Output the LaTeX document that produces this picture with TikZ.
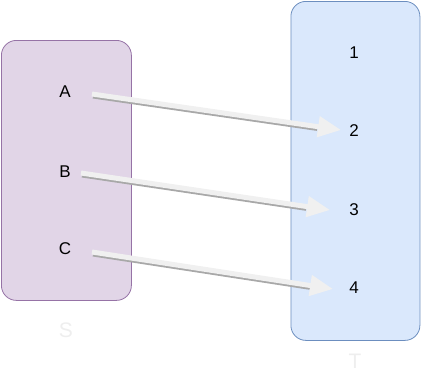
\documentclass[tikz,border=0pt]{standalone}
\usepackage{fontspec}
\setmainfont{Liberation Sans}
\usetikzlibrary{arrows.meta,calc}
\definecolor{sfill}{HTML}{E1D5E7}
\definecolor{sdraw}{HTML}{9673A6}
\definecolor{tfill}{HTML}{DAE8FC}
\definecolor{tdraw}{HTML}{6C8EBF}
\definecolor{arrowlight}{HTML}{F0F0F0}
\definecolor{arrowshadow}{HTML}{A8A8A8}
\definecolor{setlabel}{HTML}{EEEEEE}
\newcommand{\elemfont}{\fontsize{17}{20}\selectfont}
\begin{document}
\begin{tikzpicture}[x=1pt,y=-1pt,
  setbox/.style={draw, rounded corners=15pt, line width=0.8pt, inner sep=0pt, anchor=north west},
  elem/.style={font=\elemfont, text=black},
  setname/.style={font=\fontsize{21}{24}\selectfont, text=setlabel},
  shaft/.style={draw=arrowlight, line width=5pt, -{Triangle[length=23pt,width=20pt,fill=arrowlight]}},
  shadowshaft/.style={draw=arrowshadow, line width=4pt},
]
\useasboundingbox (0,0) rectangle (421,376);
\node[setbox, fill=sfill, draw=sdraw, minimum width=130pt, minimum height=260pt] (S) at (1,40) {};
\node[setbox, fill=tfill, draw=tdraw, minimum width=129pt, minimum height=339pt] (T) at (290.5,1) {};
\node[setname] (Slab) at (66,330) {S};
\node[setname] (Tlab) at (355,361) {T};
\node[elem] (A) at (65,92) {A};
\node[elem] (B) at (65,172) {B};
\node[elem] (C) at (65,249) {C};
\node[elem] (n1) at (354,53) {1};
\node[elem] (n2) at (354,131) {2};
\node[elem] (n3) at (354,210) {3};
\node[elem] (n4) at (354,288) {4};
\coordinate (As) at (92,94);
\coordinate (Ae) at (341,130);
\coordinate (Bs) at (81,173);
\coordinate (Be) at (330,210);
\coordinate (Cs) at (92,252);
\coordinate (Ce) at (333,289);
\foreach \s/\e in {As/Ae,Bs/Be,Cs/Ce}{
  \draw[shadowshaft] ($(\s)+(1,2.5)$) -- ($(\s)!0.9!(\e)+(1,2.5)$);
  \draw[shaft] (\s) -- (\e);
}
\end{tikzpicture}
\end{document}
